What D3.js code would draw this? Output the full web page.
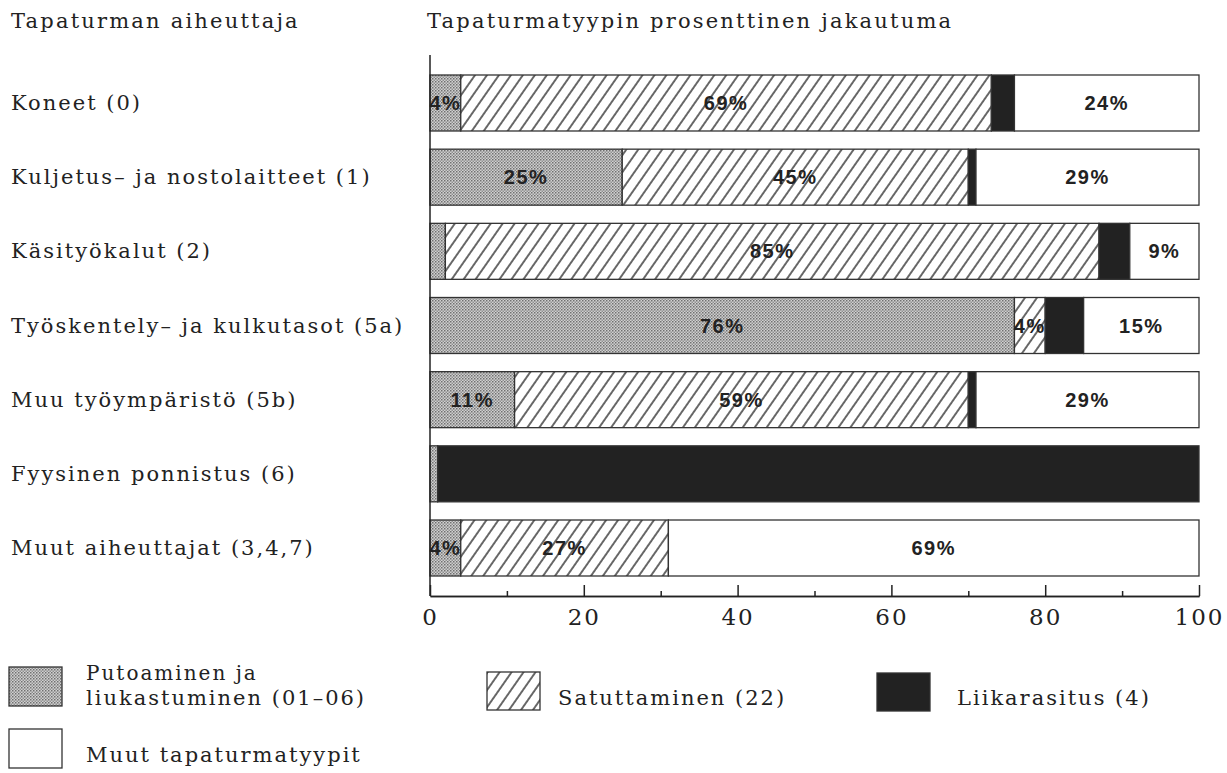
<!DOCTYPE html>
<html>
<head>
<meta charset="utf-8">
<script src="https://cdn.jsdelivr.net/npm/d3@7"></script>
<style>
  html, body { margin: 0; padding: 0; background: #fff; }
  svg { display: block; }
</style>
</head>
<body>
<svg id="chart" width="1227" height="773"></svg>
<script>
// ---- Data ----
const categories = [
  "Koneet (0)",
  "Kuljetus– ja nostolaitteet (1)",
  "Käsityökalut (2)",
  "Työskentely– ja kulkutasot (5a)",
  "Muu työympäristö (5b)",
  "Fyysinen ponnistus (6)",
  "Muut aiheuttajat (3,4,7)"
];
const seriesNames = [
  "Putoaminen ja liukastuminen (01–06)",
  "Satuttaminen (22)",
  "Liikarasitus (4)",
  "Muut tapaturmatyypit"
];
const putoaminen   = [4, 25, 2, 76, 11, 1, 4];
const satuttaminen = [69, 45, 85, 4, 59, 0, 27];
const liikarasitus = [3, 1, 4, 5, 1, 99, 0];
const muut         = [24, 29, 9, 15, 29, 0, 69];
const majorTicks = [0, 20, 40, 60, 80, 100];
const minorTicks = [10, 30, 50, 70, 90];
const leftTitle = "Tapaturman aiheuttaja";
const rightTitle = "Tapaturmatyypin prosenttinen jakautuma";

// ---- Setup ----
const svg = d3.select("#chart");
const serif = "'DejaVu Serif', serif";
const sans = "'Liberation Sans', Arial, sans-serif";

const defs = svg.append("defs");
// dotted (stipple) pattern
const dots = defs.append("pattern").attr("id", "dots")
  .attr("patternUnits", "userSpaceOnUse").attr("width", 3).attr("height", 3);
dots.append("rect").attr("width", 3).attr("height", 3).attr("fill", "#d0d0d0");
dots.append("rect").attr("x", 0).attr("y", 0).attr("width", 1.5).attr("height", 1.5).attr("fill", "#707070");
dots.append("rect").attr("x", 1.5).attr("y", 1.5).attr("width", 1.5).attr("height", 1.5).attr("fill", "#909090");
// hatch pattern
const hatch = defs.append("pattern").attr("id", "hatch")
  .attr("patternUnits", "userSpaceOnUse").attr("width", 9.8).attr("height", 9.8)
  .attr("patternTransform", "rotate(35)");
hatch.append("rect").attr("width", 9.8).attr("height", 9.8).attr("fill", "#fff");
hatch.append("line").attr("x1", 1).attr("y1", 0).attr("x2", 1).attr("y2", 9.8)
  .attr("stroke", "#2a2a2a").attr("stroke-width", 1.4);

const fills = ["url(#dots)", "url(#hatch)", "#222", "#fff"];

const x = d3.scaleLinear().domain([0, 100]).range([430, 1199]);
const y = d3.scaleBand().domain(categories).range([75, 576]).paddingInner(0.245).paddingOuter(0);

// stacked data
const table = categories.map((c, i) => ({
  cat: c,
  s0: putoaminen[i], s1: satuttaminen[i], s2: liikarasitus[i], s3: muut[i]
}));
const stack = d3.stack().keys(["s0", "s1", "s2", "s3"]);
const layers = stack(table);

// ---- Titles ----
svg.append("text").attr("x", 11).attr("y", 28).text(leftTitle)
  .attr("font-family", serif).attr("font-size", 21).attr("letter-spacing", 2.2).attr("fill", "#222");
svg.append("text").attr("x", 427).attr("y", 28).text(rightTitle)
  .attr("font-family", serif).attr("font-size", 21).attr("letter-spacing", 2.2).attr("fill", "#222");

// ---- Category labels ----
svg.append("g").selectAll("text").data(categories).join("text")
  .attr("x", 11)
  .attr("y", d => y(d) + y.bandwidth() / 2 + 7)
  .text(d => d)
  .attr("font-family", serif).attr("font-size", 21).attr("letter-spacing", 2.0).attr("fill", "#222");

// ---- Bars ----
const gBars = svg.append("g");
layers.forEach((layer, li) => {
  gBars.append("g").selectAll("rect").data(layer.filter(d => d[1] - d[0] > 0)).join("rect")
    .attr("x", d => x(d[0]))
    .attr("y", d => y(d.data.cat))
    .attr("width", d => x(d[1]) - x(d[0]))
    .attr("height", y.bandwidth())
    .attr("fill", fills[li])
    .attr("stroke", "#333")
    .attr("stroke-width", 1.3);
});

// ---- Value labels ----
const gLab = svg.append("g");
layers.forEach((layer, li) => {
  if (li === 2) return;
  gLab.append("g").selectAll("text").data(layer.filter(d => d[1] - d[0] >= 3)).join("text")
    .attr("x", d => (x(d[0]) + x(d[1])) / 2)
    .attr("y", d => y(d.data.cat) + y.bandwidth() / 2 + 7)
    .attr("text-anchor", "middle")
    .text(d => (d[1] - d[0]) + "%")
    .attr("font-family", sans).attr("font-weight", "bold").attr("font-size", 20)
    .attr("letter-spacing", 1.5).attr("fill", "#222");
});

// ---- Axes ----
const axisY = 596;
const major = svg.append("g").attr("transform", `translate(0,${axisY})`)
  .call(d3.axisBottom(x).tickValues(majorTicks).tickSize(-11).tickSizeOuter(0).tickPadding(13).tickFormat(d3.format("d")));
const minor = svg.append("g").attr("transform", `translate(0,${axisY})`)
  .call(d3.axisBottom(x).tickValues(minorTicks).tickSize(-5).tickSizeOuter(0).tickFormat(""));
[major, minor].forEach(g => {
  g.select(".domain").attr("stroke", "#222").attr("stroke-width", 1.5);
  g.selectAll(".tick line").attr("stroke", "#222").attr("stroke-width", 1.5);
});
major.selectAll(".tick text").attr("font-family", serif).attr("font-size", 23)
  .attr("letter-spacing", 2).attr("fill", "#222");

// left vertical axis line
svg.append("line").attr("x1", x(0)).attr("x2", x(0)).attr("y1", 55).attr("y2", axisY)
  .attr("stroke", "#222").attr("stroke-width", 1.5);

// ---- Legend ----
const legendItems = [
  { fill: fills[0], x: 9,   y: 667, w: 53, h: 39, lines: ["Putoaminen ja", "liukastuminen (01–06)"], tx: 86, ty: [680, 705] },
  { fill: fills[1], x: 487, y: 672, w: 53, h: 38, lines: [seriesNames[1]], tx: 558, ty: [705] },
  { fill: fills[2], x: 877, y: 673, w: 53, h: 38, lines: [seriesNames[2]], tx: 957, ty: [705] },
  { fill: fills[3], x: 9,   y: 729, w: 53, h: 39, lines: [seriesNames[3]], tx: 86, ty: [762] }
];
const gLeg = svg.append("g");
legendItems.forEach(it => {
  gLeg.append("rect").attr("x", it.x).attr("y", it.y).attr("width", it.w).attr("height", it.h)
    .attr("fill", it.fill).attr("stroke", "#333").attr("stroke-width", 1.3);
  it.lines.forEach((ln, k) => {
    gLeg.append("text").attr("x", it.tx).attr("y", it.ty[k]).text(ln)
      .attr("font-family", serif).attr("font-size", k === 0 && it.lines.length > 1 ? 20 : 21)
      .attr("letter-spacing", 2.0).attr("fill", "#222");
  });
});
</script>
</body>
</html>
